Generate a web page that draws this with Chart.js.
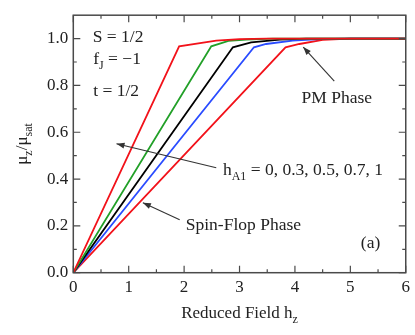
<!DOCTYPE html>
<html><head><meta charset="utf-8">
<script src="https://cdn.jsdelivr.net/npm/chart.js@4.4.0/dist/chart.umd.min.js"></script>
<style>html,body{margin:0;padding:0;background:#fff}#wrap{width:415px;height:335px}</style>
</head><body><div id="wrap"><canvas id="c" width="415" height="335"></canvas></div>
<script>
// Data (reduced field h_z vs mu_z/mu_sat)
const hz_h00 = [0, 1.91, 2.58, 3.0, 3.5, 6];
const mu_h00 = [0, 0.967, 0.991, 0.998, 1.0, 1.0];
const hz_h03 = [0, 2.49, 2.8, 3.12, 3.6, 6];
const mu_h03 = [0, 0.967, 0.99, 0.996, 1.0, 1.0];
const hz_h05 = [0, 2.88, 3.21, 3.73, 4.2, 6];
const mu_h05 = [0, 0.963, 0.984, 0.996, 1.0, 1.0];
const hz_h07 = [0, 3.26, 3.48, 3.96, 4.44, 5.0, 6];
const mu_h07 = [0, 0.963, 0.977, 0.991, 0.998, 1.0, 1.0];
const hz_h10 = [0, 3.83, 4.08, 4.5, 5.0, 6];
const mu_h10 = [0, 0.963, 0.977, 0.995, 1.0, 1.0];
const hA1Values = ['0', '0.3', '0.5', '0.7', '1'];
const seriesColors = ['#f2121a', '#22a028', '#000000', '#2a4cff', '#f2121a'];
const xTickValues = [0, 1, 2, 3, 4, 5, 6];
const yTickValues = [0, 0.2, 0.4, 0.6, 0.8, 1.0];
const xMinorValues = [0.5, 1.5, 2.5, 3.5, 4.5, 5.5];
const yMinorValues = [0.1, 0.3, 0.5, 0.7, 0.9];

const SERIF = '"Liberation Serif", "DejaVu Serif", serif';
const toPts = (xs, ys) => xs.map((x, i) => ({x: x, y: ys[i]}));
const allHz = [hz_h00, hz_h03, hz_h05, hz_h07, hz_h10];
const allMu = [mu_h00, mu_h03, mu_h05, mu_h07, mu_h10];

const datasets = allHz.map((xs, i) => ({
  label: 'hA1 = ' + hA1Values[i],
  data: toPts(xs, allMu[i]),
  borderColor: seriesColors[i],
  borderWidth: 1.8,
  pointRadius: 0,
  tension: 0,
  fill: false
}));

const frameColor = '#4a4a4a';

const framePlugin = {
  id: 'frame',
  afterDatasetsDraw(chart) {
    const {ctx, chartArea: a, scales: {x, y}} = chart;
    ctx.save();
    ctx.strokeStyle = frameColor;
    ctx.lineWidth = 1.5;
    ctx.strokeRect(a.left, a.top, a.right - a.left, a.bottom - a.top);
    ctx.lineWidth = 1.2;
    const major = 7, minor = 3.5;
    ctx.beginPath();
    const xt = (v, len) => {
      const p = x.getPixelForValue(v);
      ctx.moveTo(p, a.bottom); ctx.lineTo(p, a.bottom - len);
      ctx.moveTo(p, a.top); ctx.lineTo(p, a.top + len);
    };
    const yt = (v, len) => {
      const p = y.getPixelForValue(v);
      ctx.moveTo(a.left, p); ctx.lineTo(a.left + len, p);
      ctx.moveTo(a.right, p); ctx.lineTo(a.right - len, p);
    };
    xTickValues.forEach(v => xt(v, major));
    xMinorValues.forEach(v => xt(v, minor));
    yTickValues.forEach(v => yt(v, major));
    yMinorValues.forEach(v => yt(v, minor));
    ctx.stroke();
    ctx.restore();
  },
  afterDraw(chart) {
    const {ctx, chartArea: a, scales: {x, y}} = chart;
    const X = v => x.getPixelForValue(v), Y = v => y.getPixelForValue(v);
    ctx.save();
    ctx.fillStyle = '#222';
    ctx.textBaseline = 'alphabetic';
    ctx.textAlign = 'left';
    const big = 17.5, sub = 12;
    const rich = (parts, px, py, size) => {
      // parts: [text, isSub]
      let cx = px;
      parts.forEach(([t, s]) => {
        ctx.font = (s ? sub : size) + 'px ' + SERIF;
        ctx.fillText(t, cx, s ? py + 5 : py);
        cx += ctx.measureText(t).width;
      });
      return cx - px;
    };
    rich([['S = 1/2', 0]], X(0.35), Y(0.985), big);
    rich([['f', 0], ['J', 1], [' = \u22121', 0]], X(0.36), Y(0.891), big);
    rich([['t = 1/2', 0]], X(0.36), Y(0.755), big);
    rich([['PM Phase', 0]], X(4.12), Y(0.727), big);
    rich([['h', 0], ['A1', 1], [' = 0, 0.3, 0.5, 0.7, 1', 0]], X(2.70), Y(0.419), big);
    rich([['Spin-Flop Phase', 0]], X(2.03), Y(0.183), big);
    rich([['(a)', 0]], X(5.19), Y(0.106), big);

    // arrows
    const arrow = (x1, y1, x2, y2) => {
      const p1 = [X(x1), Y(y1)], p2 = [X(x2), Y(y2)];
      ctx.strokeStyle = '#333'; ctx.fillStyle = '#333';
      ctx.lineWidth = 1.1;
      ctx.beginPath(); ctx.moveTo(p1[0], p1[1]); ctx.lineTo(p2[0], p2[1]); ctx.stroke();
      const ang = Math.atan2(p2[1] - p1[1], p2[0] - p1[0]);
      const L = 8, W = 3;
      ctx.beginPath();
      ctx.moveTo(p2[0], p2[1]);
      ctx.lineTo(p2[0] - L * Math.cos(ang) + W * Math.sin(ang), p2[1] - L * Math.sin(ang) - W * Math.cos(ang));
      ctx.lineTo(p2[0] - L * Math.cos(ang) - W * Math.sin(ang), p2[1] - L * Math.sin(ang) + W * Math.cos(ang));
      ctx.closePath(); ctx.fill();
    };
    arrow(4.71, 0.818, 4.15, 0.964);
    arrow(2.58, 0.448, 0.78, 0.551);
    arrow(1.92, 0.226, 1.256, 0.299);

    // axis titles
    ctx.fillStyle = '#222';
    ctx.font = '17px ' + SERIF;
    const tx = 'Reduced Field h';
    const w1 = ctx.measureText(tx).width;
    ctx.font = '12px ' + SERIF;
    const w2 = ctx.measureText('z').width;
    const cx = (a.left + a.right) / 2 - (w1 + w2) / 2;
    rich([[tx, 0], ['z', 1]], cx, 318, 17);

    ctx.save();
    ctx.translate(27, (a.top + a.bottom) / 2);
    ctx.rotate(-Math.PI / 2);
    const yparts = [['\u03bc', 0], ['z', 1], ['/\u03bc', 0], ['sat', 1]];
    let tw = 0;
    yparts.forEach(([t, s]) => { ctx.font = (s ? 12 : 17) + 'px ' + SERIF; tw += ctx.measureText(t).width; });
    rich(yparts, -tw / 2, 0, 17);
    ctx.restore();
    ctx.restore();
  }
};

new Chart(document.getElementById('c'), {
  type: 'line',
  data: { datasets },
  options: {
    responsive: false,
    animation: false,
    devicePixelRatio: 1,
    layout: { padding: { top: 15, right: 8.5, left: 0, bottom: 0 } },
    plugins: { legend: { display: false }, tooltip: { enabled: false } },
    scales: {
      x: {
        type: 'linear', min: 0, max: 6,
        grid: { display: false, drawTicks: false },
        border: { display: false },
        afterBuildTicks: s => { s.ticks = xTickValues.map(v => ({ value: v })); },
        afterFit: s => { s.height = 62.3; },
        ticks: { color: '#222', font: { family: SERIF, size: 17 }, padding: 5, maxRotation: 0,
                 callback: v => String(v) }
      },
      y: {
        type: 'linear', min: 0, max: 1.1,
        grid: { display: false, drawTicks: false },
        border: { display: false },
        afterBuildTicks: s => { s.ticks = yTickValues.map(v => ({ value: v })); },
        afterFit: s => { s.width = 73.3; },
        ticks: { color: '#222', font: { family: SERIF, size: 17 }, padding: 5,
                 callback: v => Number(v).toFixed(1) }
      }
    }
  },
  plugins: [framePlugin]
});
</script>
</body></html>
